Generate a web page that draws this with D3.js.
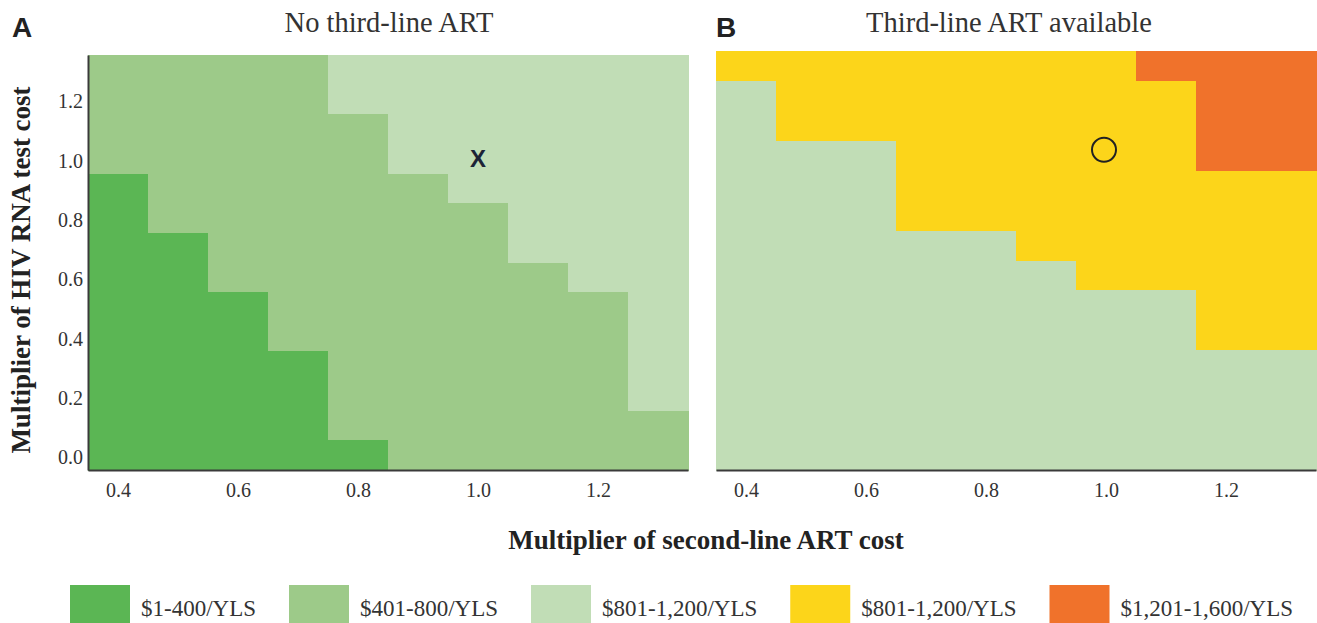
<!DOCTYPE html>
<html>
<head>
<meta charset="utf-8">
<script src="https://cdn.jsdelivr.net/npm/d3@7"></script>
<style>
  html, body { margin: 0; padding: 0; background: #fff; }
  svg { display: block; }
</style>
</head>
<body>
<svg id="chart" width="1317" height="623"></svg>
<script>
// ---------- DATA ----------
const xValues = [0.4, 0.5, 0.6, 0.7, 0.8, 0.9, 1.0, 1.1, 1.2, 1.3];
const yValues = [1.3, 1.2, 1.1, 1.0, 0.9, 0.8, 0.7, 0.6, 0.5, 0.4, 0.3, 0.2, 0.1, 0.0];
const categoryLabels = ["$1-400/YLS", "$401-800/YLS", "$801-1,200/YLS", "$801-1,200/YLS", "$1,201-1,600/YLS"];
const categoryColors = ["#5bb654", "#9dca89", "#c1ddb6", "#fcd51a", "#f0722b"];
const xTicks = [0.4, 0.6, 0.8, 1.0, 1.2];
const yTicks = [0.0, 0.2, 0.4, 0.6, 0.8, 1.0, 1.2];
const panelTitles = ["No third-line ART", "Third-line ART available"];
const panelLetters = ["A", "B"];
const xAxisTitle = "Multiplier of second-line ART cost";
const yAxisTitle = "Multiplier of HIV RNA test cost";

// category index per cell; rows follow yValues (top to bottom), columns follow xValues
const gridA = [
  [1,1,1,1,2,2,2,2,2,2],
  [1,1,1,1,2,2,2,2,2,2],
  [1,1,1,1,1,2,2,2,2,2],
  [1,1,1,1,1,2,2,2,2,2],
  [0,1,1,1,1,1,2,2,2,2],
  [0,1,1,1,1,1,1,2,2,2],
  [0,0,1,1,1,1,1,2,2,2],
  [0,0,1,1,1,1,1,1,2,2],
  [0,0,0,1,1,1,1,1,1,2],
  [0,0,0,1,1,1,1,1,1,2],
  [0,0,0,0,1,1,1,1,1,2],
  [0,0,0,0,1,1,1,1,1,2],
  [0,0,0,0,1,1,1,1,1,1],
  [0,0,0,0,0,1,1,1,1,1]
];
const gridB = [
  [3,3,3,3,3,3,3,4,4,4],
  [2,3,3,3,3,3,3,3,4,4],
  [2,3,3,3,3,3,3,3,4,4],
  [2,2,2,3,3,3,3,3,4,4],
  [2,2,2,3,3,3,3,3,3,3],
  [2,2,2,3,3,3,3,3,3,3],
  [2,2,2,2,2,3,3,3,3,3],
  [2,2,2,2,2,2,3,3,3,3],
  [2,2,2,2,2,2,2,2,3,3],
  [2,2,2,2,2,2,2,2,3,3],
  [2,2,2,2,2,2,2,2,2,2],
  [2,2,2,2,2,2,2,2,2,2],
  [2,2,2,2,2,2,2,2,2,2],
  [2,2,2,2,2,2,2,2,2,2]
];
const markerA = { x: 1.0, y: 1.0, label: "X" };
const markerB = { x: 1.0, y: 1.02 };

// ---------- DRAW ----------
const svg = d3.select("#chart");
const serif = "'Liberation Serif', 'Times New Roman', serif";
const sans = "'Liberation Sans', Arial, sans-serif";
const axisColor = "#3a3a3a";
const textColor = "#333";

const panels = [
  { grid: gridA, x0: 88, x1: 688, yTop: 55, yBot: 470, leftAxis: true, titleX: 389, letterX: 12 },
  { grid: gridB, x0: 716, x1: 1316, yTop: 51, yBot: 470, leftAxis: false, titleX: 1009, letterX: 716 }
];

const step = 0.1;
panels.forEach((p, pi) => {
  const x = d3.scaleLinear().domain([d3.min(xValues) - step / 2, d3.max(xValues) + step / 2]).range([p.x0, p.x1]);
  const y = d3.scaleLinear().domain([d3.min(yValues) - step / 2, d3.max(yValues) + step / 2]).range([p.yBot, p.yTop]);
  p.x = x; p.y = y;
  const g = svg.append("g");

  const cells = [];
  p.grid.forEach((row, ri) => row.forEach((c, ci) => cells.push({ xv: xValues[ci], yv: yValues[ri], c })));

  g.selectAll("rect.cell").data(cells).enter().append("rect")
    .attr("class", "cell")
    .attr("x", d => x(d.xv - step / 2))
    .attr("y", d => y(d.yv + step / 2))
    .attr("width", d => x(d.xv + step / 2) - x(d.xv - step / 2) + 0.5)
    .attr("height", d => y(d.yv - step / 2) - y(d.yv + step / 2) + 0.5)
    .attr("fill", d => categoryColors[d.c])
    .attr("shape-rendering", "crispEdges");

  // bottom axis
  const xAxis = d3.axisBottom(x).tickValues(xTicks).tickSize(0).tickPadding(13).tickFormat(d3.format(".1f"));
  const gx = g.append("g").attr("transform", `translate(0,${p.yBot})`).call(xAxis);
  gx.select(".domain").attr("stroke", axisColor).attr("stroke-width", 2);
  gx.selectAll("text").attr("font-family", serif).attr("font-size", 20).attr("fill", textColor);

  if (p.leftAxis) {
    const yAxis = d3.axisLeft(y).tickValues(yTicks).tickSize(0).tickPadding(5).tickFormat(d3.format(".1f"));
    const gy = g.append("g").attr("transform", `translate(${p.x0},0)`).call(yAxis);
    gy.select(".domain").attr("stroke", axisColor).attr("stroke-width", 2);
    gy.selectAll("text").attr("font-family", serif).attr("font-size", 20).attr("fill", textColor).attr("dy", "0.42em");
  }

  // title
  svg.append("text").attr("x", p.titleX).attr("y", 32)
    .attr("text-anchor", "middle").attr("font-family", serif).attr("font-size", 28.5).attr("fill", textColor)
    .text(panelTitles[pi]);
  // letter
  svg.append("text").attr("x", p.letterX).attr("y", 36.5)
    .attr("font-family", sans).attr("font-weight", "bold").attr("font-size", 28).attr("fill", "#222")
    .text(panelLetters[pi]);
});

// markers
svg.append("text")
  .attr("x", panels[0].x(markerA.x)).attr("y", panels[0].y(markerA.y))
  .attr("text-anchor", "middle").attr("dominant-baseline", "central")
  .attr("font-family", sans).attr("font-weight", "bold").attr("font-size", 24).attr("fill", "#1c2336")
  .text(markerA.label);
svg.append("circle")
  .attr("cx", panels[1].x(markerB.x) - 2).attr("cy", panels[1].y(markerB.y))
  .attr("r", 12).attr("fill", "none").attr("stroke", "#222").attr("stroke-width", 2);

// axis titles
svg.append("text").attr("x", 706).attr("y", 549)
  .attr("text-anchor", "middle").attr("font-family", serif).attr("font-weight", "bold").attr("font-size", 27).attr("fill", "#222")
  .text(xAxisTitle);
svg.append("text").attr("transform", "translate(30,270) rotate(-90)")
  .attr("text-anchor", "middle").attr("font-family", serif).attr("font-weight", "bold").attr("font-size", 27).attr("fill", "#222")
  .text(yAxisTitle);

// legend
const legend = svg.append("g");
let lx = 70;
categoryLabels.forEach((lab, i) => {
  legend.append("rect").attr("x", lx).attr("y", 585).attr("width", 60).attr("height", 40).attr("fill", categoryColors[i]);
  const t = legend.append("text").attr("x", lx + 71).attr("y", 616)
    .attr("font-family", serif).attr("font-size", 23).attr("fill", textColor).text(lab);
  lx += 71 + t.node().getComputedTextLength() + 33;
});
</script>
</body>
</html>
